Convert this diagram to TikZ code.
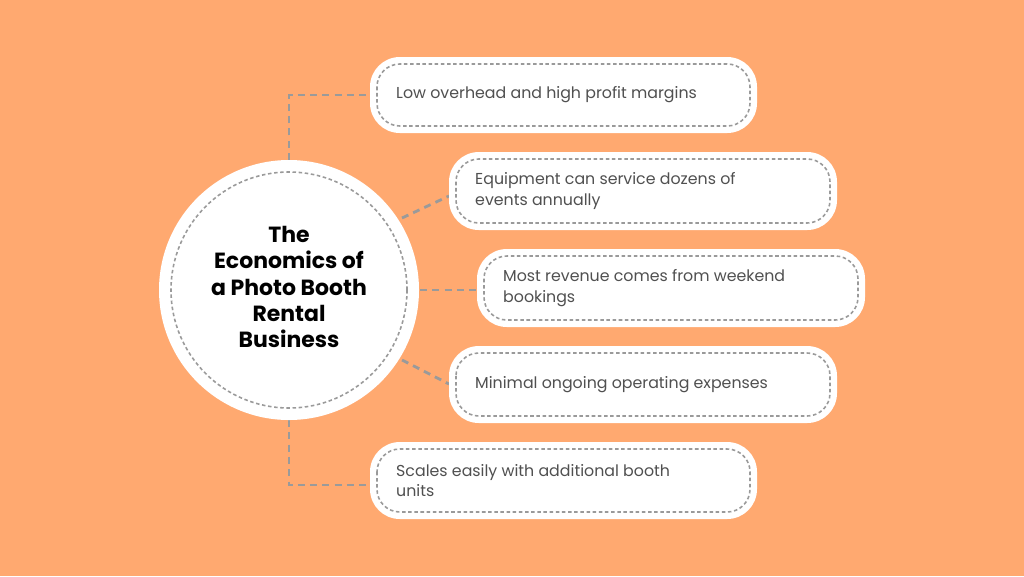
\documentclass[tikz,border=0pt]{standalone}
\usepackage{fontspec}
\setmainfont{Poppins}
\definecolor{bg}{HTML}{FFA970}
\definecolor{dash}{HTML}{9A9A9A}
\definecolor{txt}{HTML}{505050}
\begin{document}
\begin{tikzpicture}[x=0.02cm,y=-0.02cm,
  conn/.style={draw=dash,line width=1.6pt,dash pattern=on 4pt off 3pt},
  pill/.style={fill=white,rounded corners=17pt},
  inner/.style={draw=dash,line width=0.9pt,dash pattern=on 2pt off 1.5pt,rounded corners=13pt},
  lbl/.style={font=\fontsize{9}{11.5}\selectfont,text=txt,anchor=west,align=left}]
\fill[bg] (0,0) rectangle (1024,576);
\useasboundingbox (0,0) rectangle (1024,576);
% connectors
\coordinate (ct) at (289,160);
\coordinate (cb) at (289,420);
\coordinate (k1) at (289,95);
\coordinate (k5) at (289,485);
\draw[conn] (ct) -- (k1) -- (370,95);
\draw[conn] (cb) -- (k5) -- (370,485);
\draw[conn] (402,218) -- (449,196);
\draw[conn] (420,290) -- (477,290);
\draw[conn] (402,360) -- (449,384);
% circle
\node[circle,fill=white,minimum size=260*0.02cm] (c) at (289,290) {};
\draw[draw=dash,line width=0.9pt,dash pattern=on 2pt off 1.5pt] (289,290) circle (118);
\node[font=\bfseries\fontsize{12.5}{15}\selectfont,align=center] at (289,287) {The\\Economics of\\a Photo Booth\\Rental\\Business};
% boxes
\foreach \n/\xa/\xb/\ya/\yb/\t in {
 1/370/757/57/133/{Low overhead and high profit margins},
 2/449/837/152/230/{Equipment can service dozens of\\events annually},
 3/477/865/249/327/{Most revenue comes from weekend\\bookings},
 4/449/837/346/423/{Minimal ongoing operating expenses},
 5/370/757/442/519/{Scales easily with additional booth\\units}}{
 \fill[pill] (\xa,\ya) rectangle (\xb,\yb);
 \draw[inner] (\xa+7,\ya+7) rectangle (\xb-7,\yb-7);
 \node[lbl] (b\n) at (\xa+20,{(\ya+\yb)/2}) {\t};
}
\end{tikzpicture}
\end{document}
